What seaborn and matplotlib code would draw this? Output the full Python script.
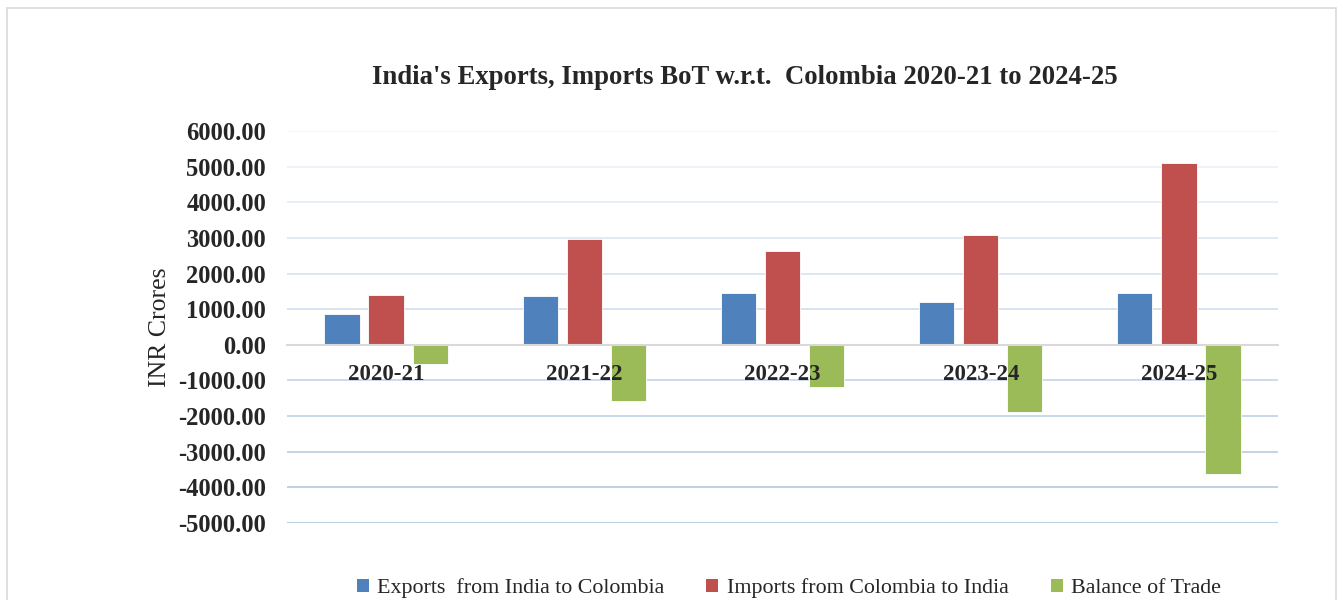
import matplotlib
matplotlib.use("Agg")
import matplotlib.pyplot as plt
import seaborn as sns
import pandas as pd
import numpy as np
from matplotlib.patches import Rectangle, Patch
from matplotlib.ticker import FixedLocator, FuncFormatter

years = ["2020-21", "2021-22", "2022-23", "2023-24", "2024-25"]
exports = [860, 1370, 1450, 1205, 1465]
imports = [1400, 2960, 2620, 3085, 5095]
balance = [-540, -1590, -1170, -1880, -3630]
series_names = ["Exports  from India to Colombia", "Imports from Colombia to India", "Balance of Trade"]
colors = ["#4F81BD", "#C0504D", "#9BBB59"]
yticks = [6000, 5000, 4000, 3000, 2000, 1000, 0, -1000, -2000, -3000, -4000, -5000]

df = pd.DataFrame({
    "Year": years * 3,
    "Value": exports + imports + balance,
    "Series": [series_names[0]] * 5 + [series_names[1]] * 5 + [series_names[2]] * 5,
})

sns.set_theme(style="white")
plt.rcParams["font.family"] = ["Liberation Serif", "DejaVu Serif"]

fig = plt.figure(figsize=(13.43, 6.0), dpi=100)
ax = fig.add_axes([287 / 1343, 1 - 523 / 600, (1278 - 287) / 1343, (523 - 131) / 600])

sns.barplot(data=df, x="Year", y="Value", hue="Series", order=years, hue_order=series_names,
            palette=colors, width=0.667, gap=0.2, ax=ax, legend=False,
            edgecolor="white", linewidth=0.6, saturation=1)

ax.set_ylim(-5000, 6000)
ax.set_xlim(-0.5, 4.5)
ax.yaxis.set_major_locator(FixedLocator(yticks))
ax.yaxis.set_major_formatter(FuncFormatter(lambda v, p: f"{v:.2f}"))
ax.grid(False)
ax.set_axisbelow(True)
ax.xaxis.set_zorder(4)

c0 = np.array([0.95, 0.965, 0.985])
c1 = np.array([0.72, 0.80, 0.89])
for yv in yticks:
    if yv == 0:
        continue
    t = (6000 - yv) / 11000.0
    ax.axhline(yv, color=tuple(c0 + (c1 - c0) * t), linewidth=1.4, zorder=0.5)

for s in ["top", "right", "left"]:
    ax.spines[s].set_visible(False)
ax.spines["bottom"].set_position(("data", 0))
ax.spines["bottom"].set_color("#d9d9d9")
ax.spines["bottom"].set_linewidth(1.5)
ax.tick_params(axis="x", length=0, pad=14, labelsize=16.5, colors="#262626")
ax.tick_params(axis="y", length=0, pad=15, labelsize=17.7, colors="#262626")
for lab in ax.get_xticklabels() + ax.get_yticklabels():
    lab.set_fontweight("bold")
ax.set_xlabel("")
ax.set_ylabel("")

fig.text(160 / 1343, 1 - 327 / 600, "INR Crores", rotation=90, ha="center", va="center",
         fontsize=18.5, color="#262626")
fig.text(745 / 1343, 1 - 77 / 600, "India's Exports, Imports BoT w.r.t.  Colombia 2020-21 to 2024-25",
         ha="center", va="center", fontsize=19.3, fontweight="bold", color="#262626")

handles = [Patch(facecolor=c, edgecolor="none") for c in colors]
fig.legend(handles, series_names, loc="center", bbox_to_anchor=(789 / 1343, 1 - 588 / 600),
           ncol=3, frameon=False, fontsize=15.8, handlelength=0.55, handleheight=0.55,
           handletextpad=0.4, columnspacing=1.9, labelcolor="#262626")

fig.patches.append(Rectangle((7 / 1343, -0.05), (1336 - 7) / 1343, 1.05 - 8 / 600,
                             transform=fig.transFigure, fill=False, edgecolor="#d9d9d9",
                             linewidth=1.2))

fig.savefig("out.png", dpi=100, facecolor="white")
